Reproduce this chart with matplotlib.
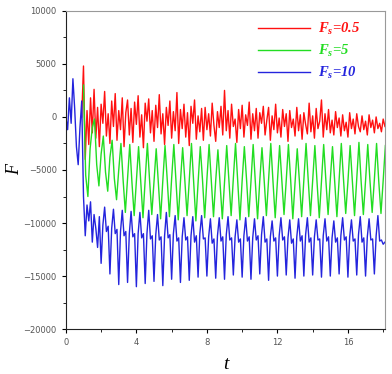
import numpy as np
import matplotlib
matplotlib.use("Agg")
import matplotlib.pyplot as plt

# red: F_s=0.5, sampled every 0.1 from t=0.9
red_start, red_dt = 0.9, 0.1
red_vals = [
    0, 4800, -4000, 600, -2600, 1800, -1500, 2600, -2000, 900,
    -2800, 1200, -600, 2400, -1800, 300, -2500, 1500, -900, 2200,
    -2200, 600, -1200, 1800, -2800, 400, 1600, -1700, 800, -2400,
    1400, -700, 2000, -1900, 200, -2900, 1300, -400, 1700, -1500,
    600, -2300, 1100, -1000, 2100, -1600, 300, -2600, 900, -800,
    1500, -2000, 500, -1300, 2300, -2500, 700, -1100, 1200, -1900,
    400, -2700, 1000, -600, 1600, -2100, 100, -1400, 800, -2200,
    900, -1200, 300, -1800, 1300, -800, -2300, 500, -1000, 1000,
    -1700, 2500, -1300, 600, -2000, 1200, -900, -200, -2400, 700,
    -1100, 1100, -1900, 200, -800, 1400, -2100, 300, -1300, 800,
    -2000, 400, -600, 1000, -1700, -300, 900, -2200, 100, -1200,
    1200, -1500, -100, -1900, 700, -900, 300, -2300, 600, -1000,
    -200, -1800, 900, -1300, 200, -2100, 400, -700, -1600, 1300,
    -1400, 100, -2000, 800, -1100, -400, 1600, -1900, 300, -1200,
    700, -1500, -300, -1700, 500, -1000, -100, -1800, 200, -1300,
    -500, -1900, 400, -1100, -200, -1600, 300, -900, -1400, 100,
    -1200, -400, -1700, 200, -1000, -300, -1500, 0, -1100, -600,
    -1400, -200, -900,
]

# green: F_s=5, sampled every 0.125 from t=1.0
green_start, green_dt = 1.0, 0.125
green_vals = [
    3000, -5500, -7500, -3000,
    -1000, -200, -4500, -6500,
    -3500, -1800, -5200, -7000,
    -3800, -2200, -5800, -7800,
    -5000, -2500, -6000, -9000,
    -5800, -2600, -6200, -9300,
    -6000, -2800, -6100, -9500,
    -5900, -2500, -6000, -9200,
    -6100, -3000, -6300, -9600,
    -6000, -2700, -5900, -9400,
    -5800, -2600, -6200, -9700,
    -6100, -2900, -6000, -9300,
    -6000, -2500, -6100, -9800,
    -6200, -2800, -5900, -9500,
    -5900, -2600, -6000, -9400,
    -6000, -3100, -6300, -9600,
    -6100, -2700, -6000, -9300,
    -5800, -2500, -6100, -9700,
    -6000, -2800, -5900, -9400,
    -6100, -2600, -6200, -9600,
    -6000, -2900, -6000, -9300,
    -5900, -2500, -6100, -9500,
    -6100, -2700, -6000, -9200,
    -6000, -2600, -5900, -9600,
    -6200, -3000, -6100, -9400,
    -5900, -2500, -6000, -9300,
    -6000, -2700, -6200, -9500,
    -6100, -2600, -6000, -9200,
    -5900, -2800, -6100, -9400,
    -6000, -2500, -5900, -9100,
    -6100, -2700, -6000, -9300,
    -5900, -2400, -6100, -9200,
    -6000, -2600, -6000, -9000,
    -5900, -2500, -6100, -9100,
    -6000, -2700,
]

# blue: F_s=10, sampled every 0.1 from t=0
blue_start, blue_dt = 0.0, 0.1
blue_vals = [
    0, -1200, 1800, -600, 3600, 800, -2800, -4500, -1000, 1500,
    -7500, -11200, -8300, -9800, -8000, -11800, -9200, -10500, -12300, -9400,
    -13800, -10200, -8500, -10800, -10300, -14800, -10500, -8700, -11000, -10600,
    -15800, -10800, -8800, -11200, -10800, -15600, -11000, -8900, -11300, -11000,
    -16000, -11000, -9000, -11400, -11000, -15700, -11000, -8800, -11500, -11200,
    -15500, -11100, -9200, -11600, -11300, -15900, -11200, -9000, -11400, -11100,
    -15300, -11000, -9300, -11700, -11400, -15600, -11300, -9500, -11600, -11300,
    -15400, -11200, -9400, -11800, -11200, -15100, -11000, -9300, -11500, -11400,
    -15000, -11300, -9600, -11900, -11500, -15200, -11200, -9500, -11700, -11300,
    -15300, -11100, -9400, -11600, -11400, -14900, -11300, -9700, -11800, -11500,
    -15100, -11200, -9500, -11700, -11300, -15300, -11400, -9600, -11600, -11200,
    -14800, -11100, -9400, -11800, -11500, -15400, -11300, -9800, -11700, -11400,
    -15000, -11200, -9500, -11600, -11300, -14900, -11400, -9700, -11900, -11500,
    -15200, -11300, -9600, -11700, -11200, -15000, -11100, -9500, -11800, -11400,
    -14900, -11300, -9700, -11600, -11500, -15100, -11200, -9600, -11700, -11300,
    -15000, -11400, -9800, -11800, -11400, -14800, -11200, -9500, -11600, -11300,
    -15100, -11300, -9700, -11700, -11500, -14900, -11100, -9400, -11800, -11400,
    -15000, -11300, -9600, -11600, -11500, -14800, -11200, -9300, -11700, -11600,
    -12000, -11800,
]

labels = [r'$F_s$=0.5', r'$F_s$=5', r'$F_s$=10']
colors = ['#ff1010', '#22dd22', '#2424dd']

plt.rcParams['mathtext.fontset'] = 'custom'
plt.rcParams['mathtext.it'] = 'Liberation Serif:italic:bold'
plt.rcParams['mathtext.rm'] = 'Liberation Serif:italic:bold'

fig = plt.figure(figsize=(3.92, 3.74), dpi=100)
ax = fig.add_axes([0.168, 0.120, 0.814, 0.851])

series = [(red_start, red_dt, red_vals), (green_start, green_dt, green_vals),
          (blue_start, blue_dt, blue_vals)]
for (t0, dt, vals), lab, c in zip(series, labels, colors):
    t = t0 + dt * np.arange(len(vals))
    ax.plot(t, vals, color=c, lw=1.0, label=lab)

ax.set_xlim(0, 18.1)
ax.set_ylim(-20000, 10000)
ax.set_xticks([0, 4, 8, 12, 16])
ax.set_xticks(np.arange(2, 18.1, 4), minor=True)
ax.set_yticks(np.arange(-20000, 10001, 5000))
ax.set_yticks(np.arange(-17500, 10000, 5000), minor=True)
ax.tick_params(axis='both', which='major', labelsize=6, labelcolor='#555555',
               length=3, width=0.8, direction='out')
ax.tick_params(axis='both', which='minor', length=2, width=0.6, direction='out')

for side in ['top', 'right']:
    ax.spines[side].set_color('#999999')
for side in ['left', 'bottom']:
    ax.spines[side].set_color('#222222')

ax.set_xlabel('t', fontsize=14, fontstyle='italic', family='Liberation Serif')
ax.xaxis.set_label_coords(0.5, -0.085)
ax.set_ylabel('F', fontsize=13, fontstyle='italic', family='Liberation Serif')
ax.yaxis.set_label_coords(-0.135, 0.5)

leg = ax.legend(loc='upper right', bbox_to_anchor=(0.963, 1.01), frameon=False,
                handlelength=3.6, labelspacing=0.4, handletextpad=0.5,
                prop={'family': 'Liberation Serif', 'style': 'italic',
                      'weight': 'bold', 'size': 10.5})
for txt, c in zip(leg.get_texts(), colors):
    txt.set_color(c)

fig.savefig('out.png', dpi=100)
